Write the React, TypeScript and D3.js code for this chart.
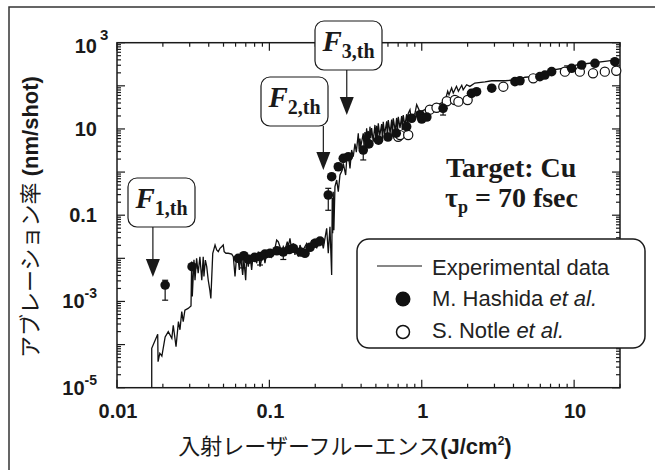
import React from 'react';
import * as d3 from 'd3';

// ablation rate (nm/shot) vs. incident fluence (J/cm2)
const experimental: [number, number][] = [
  [0.0169, 1e-5], [0.0169, 8.2e-5], [0.0185, 1.73e-4], [0.0186, 4.0e-5], [0.0191, 6.3e-5],
  [0.0197, 5.4e-5], [0.0207, 1.5e-4], [0.0217, 2.0e-4], [0.0229, 1.4e-4], [0.0234, 2.8e-4],
  [0.0244, 8.9e-5], [0.0253, 3.4e-4], [0.0259, 2.2e-4], [0.0266, 5.8e-4], [0.0272, 3.4e-4],
  [0.0279, 6.3e-4], [0.0293, 6.9e-4], [0.0306, 7.9e-4], [0.0309, 8.4e-3], [0.0312, 1.3e-3],
  [0.032, 9.2e-3], [0.0325, 3.1e-3], [0.0333, 1.0e-2], [0.0341, 4.5e-3],
  [0.035, 0.0109], [0.036, 0.0031], [0.0368, 0.0109], [0.0372, 0.0038], [0.038, 0.0091],
  [0.0388, 0.0064], [0.0397, 0.0031], [0.0407, 0.0018], [0.0413, 0.00118], [0.0425, 0.0131],
  [0.044, 0.0204], [0.0451, 0.0156], [0.0462, 0.0143], [0.0474, 0.0171], [0.0486, 0.0186],
  [0.0498, 0.0204], [0.0505, 0.0143], [0.0519, 0.0131], [0.0537, 0.0131], [0.0566, 0.0125],
  [0.058, 0.0109], [0.0595, 0.0038], [0.061, 0.012], [0.0625, 0.0091], [0.0635, 0.0054],
  [0.0648, 0.0109], [0.0668, 0.0041], [0.0681, 0.0091], [0.0699, 0.0031], [0.071, 0.0109],
  [0.0727, 0.0064], [0.0746, 0.012], [0.0765, 0.0054], [0.0784, 0.0131], [0.0826, 0.0077],
  [0.0846, 0.0143], [0.0868, 0.0064], [0.0912, 0.0143], [0.0935, 0.0077], [0.096, 0.0131],
  [0.1009, 0.0156], [0.1035, 0.0109], [0.1088, 0.0171], [0.1116, 0.0266], [0.1143, 0.0243],
  [0.1174, 0.0186], [0.1204, 0.0131], [0.1234, 0.0186], [0.1266, 0.0156], [0.1311, 0.0243],
  [0.1331, 0.0186], [0.1365, 0.0291], [0.14, 0.0156], [0.1435, 0.0223], [0.1472, 0.012],
  [0.151, 0.0204], [0.1548, 0.0109], [0.1588, 0.0204], [0.1629, 0.0156], [0.1687, 0.0171],
  [0.1758, 0.0223], [0.1846, 0.0156], [0.1895, 0.0266], [0.1941, 0.0204], [0.1991, 0.0266],
  [0.2043, 0.0171], [0.2094, 0.0291], [0.2148, 0.0204], [0.2203, 0.0266], [0.2259, 0.0171],
  [0.2316, 0.0291], [0.2377, 0.0497], [0.2435, 0.0131], [0.2498, 0.054], [0.2563, 0.0041],
  [0.2586, 0.25], [0.2603, 0.038], [0.2625, 0.35], [0.265, 0.045], [0.2694, 0.458],
  [0.2765, 0.655], [0.2833, 0.351], [0.2906, 0.855], [0.3007, 1.12], [0.3055, 1.6],
  [0.3167, 0.855], [0.3216, 1.91], [0.3296, 2.72], [0.338, 1.22], [0.3467, 3.25],
  [0.3552, 2.27], [0.3645, 4.6], [0.372, 2.9], [0.3833, 7.9], [0.388, 3.5], [0.393, 6.0],
  [0.398, 3.9], [0.4131, 7.9], [0.418, 4.0], [0.4238, 8.5], [0.429, 4.6], [0.4348, 10.4],
  [0.44, 5.0], [0.4456, 9.0], [0.451, 4.2], [0.4571, 11.3], [0.463, 6.0], [0.4688, 10.5],
  [0.48, 5.1], [0.4929, 12.4], [0.499, 6.5], [0.5058, 11.8], [0.512, 5.1], [0.5184, 13.5],
  [0.53, 7.0], [0.5457, 13.0], [0.552, 5.5], [0.5589, 14.7], [0.57, 7.5], [0.5886, 15.0],
  [0.595, 6.1], [0.603, 16.1], [0.62, 8.0], [0.6346, 16.5], [0.642, 6.6], [0.6502, 17.7],
  [0.67, 9.0], [0.6843, 18.0], [0.692, 7.9], [0.7013, 19.2], [0.72, 10.5], [0.7381, 20.0],
  [0.745, 9.5], [0.7561, 21], [0.775, 12.0], [0.7961, 22], [0.805, 11.3], [0.8155, 23],
  [0.837, 27.9], [0.8583, 14.7], [0.88, 21], [0.9025, 23], [0.926, 36.5],
  [0.973, 25], [1.05, 28], [1.16, 30.6], [1.28, 36.5], [1.42, 43.7], [1.48, 75], [1.51, 62],
  [1.57, 89], [1.61, 68], [1.69, 97.5], [1.74, 75], [1.83, 103], [1.87, 81], [1.97, 106],
  [2.07, 97], [2.23, 116], [2.6, 123], [2.88, 131], [3.52, 131], [4.3, 139], [4.76, 158],
  [5.53, 166], [6.43, 198], [7.48, 237], [8.71, 259], [10.6, 309], [13.0, 338], [15.9, 370],
  [19.5, 404],
];

// M. Hashida et al. (filled)
const hashida: [number, number][] = [
  [0.0207, 0.0024], [0.0311, 0.0064], [0.0625, 0.01], [0.068, 0.0115], [0.0727, 0.0095],
  [0.08, 0.0105], [0.0868, 0.011], [0.0935, 0.0125], [0.1009, 0.0131], [0.112, 0.015],
  [0.1234, 0.014], [0.135, 0.016], [0.1435, 0.0171], [0.16, 0.014], [0.1712, 0.0131],
  [0.185, 0.018], [0.1991, 0.0223], [0.215, 0.025], [0.2435, 0.294], [0.2563, 0.78],
  [0.2833, 1.33], [0.3055, 2.08], [0.3296, 2.27], [0.4131, 3.25], [0.45, 4.5], [0.52, 5.5],
  [0.6, 6.5], [0.68, 8.0], [0.796, 11.3], [0.858, 17.7], [0.973, 21.4], [1.0, 17],
  [1.08, 18.9], [1.38, 30.1], [2.12, 67], [2.29, 73], [2.88, 88], [4.09, 125], [4.41, 131],
  [5.96, 163], [6.43, 178], [7.12, 213], [9.63, 255], [11.2, 304], [13.7, 333], [18.5, 363],
];

// error bars: fluence, low, high
const hashidaErr: [number, number, number][] = [
  [0.0207, 0.00107, 0.0031], [0.067, 0.006, 0.011], [0.0868, 0.007, 0.0115],
  [0.1234, 0.0094, 0.015], [0.2435, 0.13, 0.42], [0.4131, 1.91, 3.9], [1.38, 21, 32],
  [9.0, 230, 290],
];

// S. Notle et al. (open)
const notle: [number, number][] = [
  [0.7, 6.6], [0.72, 7.2], [0.815, 7.24], [1.13, 28], [1.25, 31], [1.46, 44], [1.65, 47],
  [1.74, 43], [2.0, 47], [3.43, 95.5], [5.39, 149], [8.7, 213], [10.9, 213], [13.3, 195],
  [15.9, 213], [18.9, 224],
];

// threshold fluences F1,th F2,th F3,th and rate where the arrow points
const thresholds = [
  { name: '1,th', fluence: 0.0172, tip: 0.0037 },
  { name: '2,th', fluence: 0.226, tip: 1.12 },
  { name: '3,th', fluence: 0.322, tip: 21 },
];
const boxPos = [{ x: 128, y: 178 }, { x: 261, y: 77 }, { x: 315, y: 21 }];

const xTickLabels = [
  { v: 0.01, text: '0.01' }, { v: 0.1, text: '0.1' }, { v: 1, text: '1' }, { v: 10, text: '10' },
];
const yTickLabels = [
  { v: 1e3, base: '10', exp: '3' }, { v: 10, base: '10', exp: '' }, { v: 0.1, base: '0.1', exp: '' },
  { v: 1e-3, base: '10', exp: '-3' }, { v: 1e-5, base: '10', exp: '-5' },
];

const sans = "'Liberation Sans', Arial, sans-serif";
const serif = "'Liberation Serif', 'Times New Roman', serif";
const jp = "'Noto Sans CJK JP', sans-serif";

export default function App() {
  const left = 117, right = 620, top = 42.7, bottom = 387.7;
  const x = d3.scaleLog().domain([0.01, 20]).range([left, right]);
  const y = d3.scaleLog().domain([1e-5, 1e3]).range([bottom, top]);
  const line = d3.line<[number, number]>().x(d => x(d[0])).y(d => y(d[1]));
  const isMajor = (v: number) => Math.abs(Math.log10(v) - Math.round(Math.log10(v))) < 1e-6;
  const ink = '#1a1a1a';

  return (
    <svg width={655} height={470} style={{ position: 'absolute', left: 0, top: 0, background: '#fff' }}>
      <rect x={9} y={7} width={670} height={490} fill="none" stroke="#333" strokeWidth={1.5} />

      {/* ticks on all four sides, pointing in */}
      <g stroke={ink} strokeWidth={1.2}>
        {x.ticks().map((t, i) => {
          const l = isMajor(t) ? 8 : 4;
          return (
            <g key={'x' + i}>
              <line x1={x(t)} x2={x(t)} y1={bottom} y2={bottom - l} />
              <line x1={x(t)} x2={x(t)} y1={top} y2={top + l} />
            </g>
          );
        })}
        {y.ticks().map((t, i) => {
          const l = isMajor(t) ? 8 : 4;
          return (
            <g key={'y' + i}>
              <line x1={left} x2={left + l} y1={y(t)} y2={y(t)} />
              <line x1={right} x2={right - l} y1={y(t)} y2={y(t)} />
            </g>
          );
        })}
      </g>
      <rect x={left} y={top} width={right - left} height={bottom - top} fill="none" stroke={ink} strokeWidth={1.5} />

      {/* tick labels */}
      <g fontFamily={sans} fontWeight="bold" fontSize={20} fill={ink}>
        {xTickLabels.map(d => (
          <text key={d.text} x={x(d.v) + 1} y={418} textAnchor="middle">{d.text}</text>
        ))}
        {yTickLabels.map(d => {
          const yy = y(d.v) + 7;
          if (d.exp && !d.exp.startsWith('-')) {
            return (
              <g key={d.v}>
                <text x={97} y={yy + 3} textAnchor="end">{d.base}</text>
                <text x={100} y={yy - 10} fontSize={15}>{d.exp}</text>
              </g>
            );
          }
          return (
            <text key={d.v} x={97} y={yy} textAnchor="end">
              {d.base}
              {d.exp && <tspan dy={-10} fontSize={14}>{d.exp}</tspan>}
            </text>
          );
        })}
      </g>

      {/* axis titles */}
      <text x={345} y={454} textAnchor="middle" fontSize={22} fill={ink}>
        <tspan fontFamily={jp}>入射レーザーフルーエンス</tspan>
        <tspan fontFamily={sans} fontWeight="bold">(J/cm</tspan>
        <tspan fontFamily={sans} fontWeight="bold" fontSize={12} dy={-9}>2</tspan>
        <tspan fontFamily={sans} fontWeight="bold" dy={9}>)</tspan>
      </text>
      <text transform="translate(38,217) rotate(-90)" textAnchor="middle" fontSize={22} fill={ink}>
        <tspan fontFamily={jp}>アブレーション率</tspan>
        <tspan fontFamily={sans} fontWeight="bold"> (nm/shot)</tspan>
      </text>

      {/* experimental curve */}
      <path d={line(experimental) || ''} fill="none" stroke="#111" strokeWidth={1.3} strokeLinejoin="miter" />

      {/* error bars */}
      <g stroke="#111" strokeWidth={1.2}>
        {hashidaErr.map((d, i) => (
          <g key={'e' + i}>
            <line x1={x(d[0])} x2={x(d[0])} y1={y(d[1])} y2={y(d[2])} />
            <line x1={x(d[0]) - 3} x2={x(d[0]) + 3} y1={y(d[1])} y2={y(d[1])} />
            <line x1={x(d[0]) - 3} x2={x(d[0]) + 3} y1={y(d[2])} y2={y(d[2])} />
          </g>
        ))}
      </g>
      {notle.map((d, i) => (
        <circle key={'n' + i} cx={x(d[0])} cy={y(d[1])} r={4.6} fill="#fff" stroke="#111" strokeWidth={1.2} />
      ))}
      {hashida.map((d, i) => (
        <circle key={'h' + i} cx={x(d[0])} cy={y(d[1])} r={4.8} fill="#111" />
      ))}

      {/* threshold annotations */}
      {thresholds.map((t, i) => {
        const b = boxPos[i];
        const ax = x(t.fluence);
        const tipY = y(t.tip);
        return (
          <g key={t.name}>
            <rect x={b.x} y={b.y} width={67} height={49} rx={9} fill="#fff" stroke={ink} strokeWidth={1.2} />
            <text x={b.x + 33.5} y={b.y + 30} textAnchor="middle" fontFamily={serif} fontWeight="bold" fill={ink}>
              <tspan fontStyle="italic" fontSize={29}>F</tspan>
              <tspan fontSize={20} dy={7}>{t.name}</tspan>
            </text>
            <line x1={ax} x2={ax} y1={b.y + 49} y2={tipY - 17} stroke={ink} strokeWidth={1.2} />
            <path d={`M${ax - 7},${tipY - 18}L${ax + 7},${tipY - 18}L${ax},${tipY}Z`} fill={ink} />
          </g>
        );
      })}

      {/* target info */}
      <g fontFamily={serif} fontWeight="bold" fontSize={28} fill={ink}>
        <text x={446} y={177}>Target: Cu</text>
        <text x={445} y={207}>
          τ<tspan fontSize={18} dy={6}>p</tspan>
          <tspan dy={-6}> = 70 fsec</tspan>
        </text>
      </g>

      {/* legend */}
      <rect x={357} y={239} width={288} height={109} rx={12} fill="#fff" stroke={ink} strokeWidth={1.5} />
      <line x1={377} x2={422} y1={266} y2={266} stroke="#111" strokeWidth={1.2} />
      <circle cx={403} cy={299} r={7.5} fill="#111" />
      <circle cx={403} cy={332} r={6.5} fill="#fff" stroke="#111" strokeWidth={1.5} />
      <g fontFamily={sans} fontSize={22} fill="#222">
        <text x={432} y={275}>Experimental data</text>
        <text x={432} y={306}>M. Hashida <tspan fontStyle="italic">et al.</tspan></text>
        <text x={432} y={338}>S. Notle <tspan fontStyle="italic">et al.</tspan></text>
      </g>
    </svg>
  );
}
